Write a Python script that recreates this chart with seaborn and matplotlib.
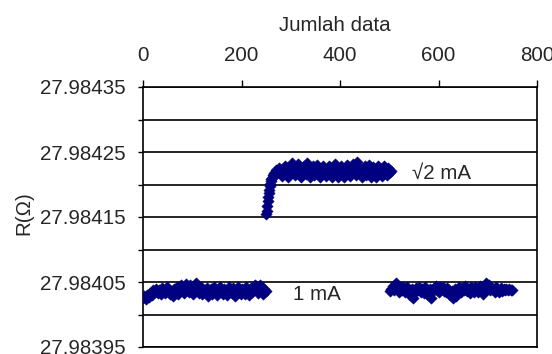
import numpy as np
import pandas as pd
import matplotlib
matplotlib.use("Agg")
import matplotlib.pyplot as plt
import seaborn as sns

# Resistance readings (ohm) against sample number, three measurement runs
run1_n = np.arange(0, 250, 3)
run1_R = [27.984025, 27.984028, 27.984024, 27.984030, 27.984027, 27.984033, 27.984030, 27.984037, 27.984034, 27.984040,
          27.984033, 27.984038, 27.984031, 27.984041, 27.984036, 27.984033, 27.984042, 27.984038, 27.984031, 27.984036,
          27.984029, 27.984040, 27.984035, 27.984043, 27.984032, 27.984038, 27.984045, 27.984036, 27.984033, 27.984047,
          27.984041, 27.984035, 27.984046, 27.984039, 27.984032, 27.984044, 27.984048, 27.984037, 27.984033, 27.984042,
          27.984031, 27.984038, 27.984035, 27.984041, 27.984028, 27.984036, 27.984040, 27.984032, 27.984042, 27.984037,
          27.984030, 27.984039, 27.984043, 27.984034, 27.984031, 27.984040, 27.984036, 27.984030, 27.984042, 27.984038,
          27.984033, 27.984041, 27.984029, 27.984037, 27.984043, 27.984034, 27.984031, 27.984040, 27.984036, 27.984032,
          27.984043, 27.984038, 27.984030, 27.984041, 27.984035, 27.984044, 27.984046, 27.984037, 27.984033, 27.984045,
          27.984039, 27.984032, 27.984040, 27.984036]

run2_n = np.concatenate([np.arange(250, 262), np.arange(264, 505, 3)])
run2_R = [27.984155, 27.984160, 27.984167, 27.984174, 27.984181, 27.984187, 27.984192, 27.984197,
          27.984201, 27.984205, 27.984208, 27.984210,
          27.984214, 27.984218, 27.984222, 27.984217, 27.984225, 27.984220, 27.984213, 27.984224, 27.984228, 27.984219,
          27.984212, 27.984223, 27.984229, 27.984233, 27.984221, 27.984214, 27.984226, 27.984231, 27.984218, 27.984211,
          27.984222, 27.984229, 27.984216, 27.984233, 27.984224, 27.984212, 27.984220, 27.984228, 27.984215, 27.984223,
          27.984230, 27.984219, 27.984211, 27.984225, 27.984229, 27.984217, 27.984213, 27.984222, 27.984228, 27.984220,
          27.984212, 27.984226, 27.984231, 27.984218, 27.984211, 27.984223, 27.984229, 27.984216, 27.984212, 27.984225,
          27.984230, 27.984221, 27.984213, 27.984227, 27.984232, 27.984222, 27.984214, 27.984235, 27.984226, 27.984218,
          27.984211, 27.984224, 27.984229, 27.984215, 27.984221, 27.984230, 27.984212, 27.984219, 27.984227, 27.984223,
          27.984211, 27.984228, 27.984217, 27.984224, 27.984213, 27.984229, 27.984220, 27.984215, 27.984226, 27.984219,
          27.984221]

run3_n = np.arange(501, 751, 3)
run3_R = [27.984036, 27.984040, 27.984044, 27.984038, 27.984048, 27.984041, 27.984035, 27.984042, 27.984037, 27.984043,
          27.984034, 27.984039, 27.984042, 27.984036, 27.984030, 27.984040, 27.984026, 27.984035, 27.984041, 27.984038,
          27.984043, 27.984035, 27.984040, 27.984033, 27.984042, 27.984037, 27.984030, 27.984039, 27.984025, 27.984036,
          27.984041, 27.984044, 27.984037, 27.984035, 27.984042, 27.984039, 27.984043, 27.984036, 27.984034, 27.984041,
          27.984038, 27.984030, 27.984036, 27.984026, 27.984040, 27.984029, 27.984037, 27.984043, 27.984035, 27.984041,
          27.984038, 27.984044, 27.984036, 27.984040, 27.984033, 27.984042, 27.984037, 27.984035, 27.984043, 27.984039,
          27.984034, 27.984044, 27.984038, 27.984032, 27.984041, 27.984048, 27.984043, 27.984045, 27.984037, 27.984040,
          27.984040, 27.984035, 27.984043, 27.984038, 27.984034, 27.984041, 27.984036, 27.984040, 27.984037, 27.984040,
          27.984038, 27.984039, 27.984038, 27.984038]

assert len(run1_n) == len(run1_R)
assert len(run2_n) == len(run2_R)
assert len(run3_n) == len(run3_R)

x_ticks = [0, 200, 400, 600, 800]
y_ticks = [27.98395, 27.98400, 27.98405, 27.98410, 27.98415,
           27.98420, 27.98425, 27.98430, 27.98435]
y_tick_labels = ["27.98395", "", "27.98405", "", "27.98415",
                 "", "27.98425", "", "27.98435"]

df = pd.DataFrame({
    "n": np.concatenate([run1_n, run2_n, run3_n]),
    "R": run1_R + run2_R + run3_R,
})

sns.set_style("white")
plt.rcParams["font.family"] = ["Liberation Sans", "DejaVu Sans"]
FS = 14.8
NAVY = "#000080"

fig = plt.figure(figsize=(5.52, 3.54), dpi=100)
ax = fig.add_axes([143 / 552, 7 / 354, 394 / 552, 260 / 354])

sns.scatterplot(data=df, x="n", y="R", marker="D", color=NAVY, s=34,
                edgecolor=NAVY, linewidth=0.3, ax=ax, legend=False, zorder=3)

ax.set_xlim(0, 800)
ax.set_ylim(27.98395, 27.98435)
ax.set_xticks(x_ticks)
ax.set_xticklabels([str(v) for v in x_ticks])
ax.set_yticks(y_ticks)
ax.set_yticklabels(y_tick_labels)

ax.xaxis.tick_top()
ax.xaxis.set_label_position("top")
ax.tick_params(axis="x", which="both", direction="out", length=5, width=1,
               color="black", pad=11, labelsize=FS, top=True, bottom=False)
ax.tick_params(axis="y", which="both", direction="out", length=3.5, width=1,
               color="black", pad=9, labelsize=FS, left=True)

ax.yaxis.grid(True, color="black", linewidth=1.2)
ax.xaxis.grid(False)
for side in ax.spines.values():
    side.set_visible(True)
    side.set_color("black")
    side.set_linewidth(1.2)

ax.set_xlabel("Jumlah data", fontsize=FS)
ax.xaxis.label.set_va("center")
ax.xaxis.set_label_coords(0.487, 1.235)
ax.set_ylabel("")
fig.text(24 / 552, 1 - 213 / 354, "R(Ω)", rotation=90, fontsize=FS,
         ha="center", va="center")

ax.text(304.6, 27.98403, "1 mA", fontsize=FS, ha="left", va="center")
ax.text(546.4, 27.9842177, "√2 mA", fontsize=FS, ha="left", va="center")

fig.savefig("out.png", dpi=100, facecolor="white")
